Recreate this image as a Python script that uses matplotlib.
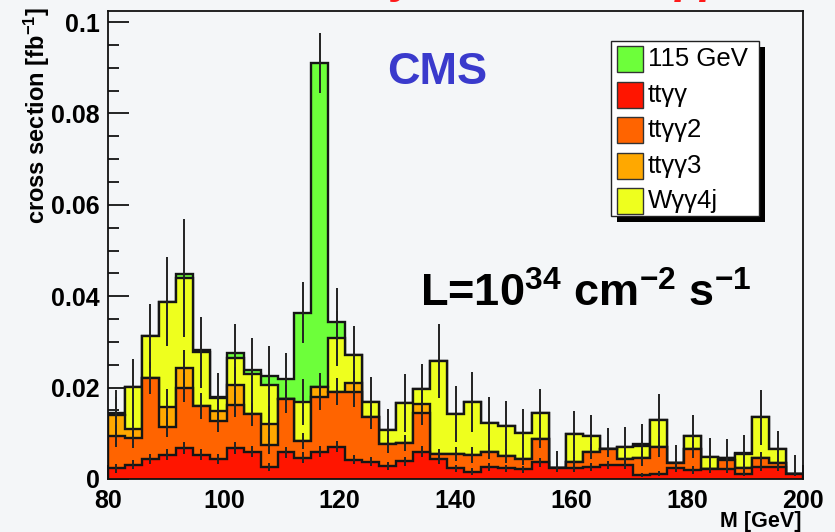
import numpy as np
import matplotlib
matplotlib.use("Agg")
import matplotlib.pyplot as plt
from matplotlib.patches import Rectangle
from matplotlib.ticker import MultipleLocator, FixedLocator, FixedFormatter

plt.rcParams['font.family'] = ['Liberation Sans', 'DejaVu Sans']
plt.rcParams['mathtext.default'] = 'regular'

# ---------------- data ----------------
x_range = (80, 200)
n_bins = 41
labels = ["115 GeV", "tt\u03b3\u03b3", "tt\u03b3\u03b32", "tt\u03b3\u03b33", "W\u03b3\u03b34j"]

tt = [0.0023, 0.0031, 0.0043, 0.0053, 0.0067, 0.0053, 0.0043, 0.0067, 0.0060, 0.0027,
      0.0058, 0.0047, 0.0060, 0.0071, 0.0042, 0.0038, 0.0028, 0.0039, 0.0060, 0.0043,
      0.0023, 0.0016, 0.0027, 0.0023, 0.0021, 0.0037, 0.0025, 0.0023, 0.0027, 0.0031,
      0.0031, 0.0009, 0.0012, 0.0023, 0.0020, 0.0021, 0.0021, 0.0012, 0.0026, 0.0027, 0.0012]
tt2 = [0.0071, 0.0058, 0.0179, 0.0061, 0.0133, 0.0107, 0.0084, 0.0096, 0.0082, 0.0047,
       0.0117, 0.0036, 0.0120, 0.0120, 0.0149, 0.0098, 0.0048, 0.0040, 0.0085, 0.0012,
       0.0032, 0.0037, 0.0033, 0.0027, 0.0022, 0.0050, 0.0, 0.0015, 0.0033, 0.0035,
       0.0012, 0.0036, 0.0059, 0.0011, 0.0045, 0.0, 0.0021, 0.0011, 0.0021, 0.0007, 0.0]
tt3 = [0.0045, 0.0020, 0.0, 0.0043, 0.0042, 0.0, 0.0022, 0.0043, 0.0, 0.0046,
       0.0, 0.0, 0.0022, 0.0, 0.0018, 0.0, 0.0, 0.0, 0.0019, 0.0,
       0.0, 0.0, 0.0, 0.0, 0.0, 0.0, 0.0, 0.0, 0.0, 0.0,
       0.0, 0.0, 0.0, 0.0, 0.0, 0.0, 0.0, 0.0, 0.0, 0.0, 0.0]
w4j = [0.0002, 0.0092, 0.0091, 0.0231, 0.0198, 0.0117, 0.0028, 0.0058, 0.0087, 0.0086,
       0.0, 0.0086, 0.0, 0.0117, 0.0062, 0.0033, 0.0031, 0.0087, 0.0034, 0.0203,
       0.0087, 0.0116, 0.0063, 0.0067, 0.0058, 0.0057, 0.0, 0.0060, 0.0034, 0.0,
       0.0028, 0.0028, 0.0058, 0.0, 0.0028, 0.0028, 0.0003, 0.0032, 0.0088, 0.0032, 0.0]
h115 = [0.0003, 0.0, 0.0, 0.0, 0.0009, 0.0005, 0.0003, 0.0012, 0.0009, 0.0019,
        0.0044, 0.0195, 0.0708, 0.0035, 0.0, 0.0, 0.0, 0.0, 0.0, 0.0,
        0.0, 0.0, 0.0, 0.0, 0.0, 0.0, 0.0, 0.0, 0.0, 0.0,
        0.0, 0.0003, 0.0, 0.0, 0.0, 0.0, 0.0002, 0.0002, 0.0, 0.0, 0.0]

e_tt = [0.0010, 0.0010, 0.0011, 0.0012, 0.0013, 0.0012, 0.0011, 0.0013, 0.0012, 0.0009,
        0.0012, 0.0011, 0.0012, 0.0013, 0.0010, 0.0010, 0.0009, 0.0010, 0.0012, 0.0011,
        0.0008, 0.0007, 0.0009, 0.0008, 0.0008, 0.0010, 0.0009, 0.0008, 0.0009, 0.0009,
        0.0009, 0.0005, 0.0006, 0.0008, 0.0008, 0.0008, 0.0008, 0.0006, 0.0009, 0.0009, 0.0006]
e_tt2 = [0.0025, 0.0022, 0.0035, 0.0023, 0.0032, 0.0028, 0.0025, 0.0027, 0.0025, 0.0019,
         0.0030, 0.0017, 0.0030, 0.0030, 0.0033, 0.0027, 0.0019, 0.0018, 0.0026, 0.0010,
         0.0016, 0.0017, 0.0016, 0.0015, 0.0013, 0.0020, 0.0, 0.0011, 0.0016, 0.0017,
         0.0010, 0.0017, 0.0022, 0.0010, 0.0019, 0.0, 0.0013, 0.0009, 0.0013, 0.0008, 0.0]
e_tt3 = [0.0040, 0.0030, 0.0, 0.0040, 0.0040, 0.0, 0.0030, 0.0040, 0.0, 0.0040,
         0.0, 0.0, 0.0030, 0.0, 0.0028, 0.0, 0.0, 0.0, 0.0028, 0.0,
         0.0, 0.0, 0.0, 0.0, 0.0, 0.0, 0.0, 0.0, 0.0, 0.0,
         0.0, 0.0, 0.0, 0.0, 0.0, 0.0, 0.0, 0.0, 0.0, 0.0, 0.0]
e_w4j = [0.0054, 0.0062, 0.0070, 0.0098, 0.0130, 0.0078, 0.0054, 0.0075, 0.0079, 0.0084,
         0.0, 0.0050, 0.0, 0.0060, 0.0064, 0.0055, 0.0046, 0.0063, 0.0053, 0.0081,
         0.0062, 0.0066, 0.0057, 0.0054, 0.0052, 0.0054, 0.0037, 0.0051, 0.0046, 0.0045,
         0.0043, 0.0047, 0.0056, 0.0040, 0.0046, 0.0041, 0.0042, 0.0041, 0.0060, 0.0040, 0.0041]
e_h115 = [0.0, 0.0, 0.0, 0.0, 0.0, 0.0, 0.0, 0.0, 0.0, 0.0,
          0.0056, 0.0066, 0.0065, 0.0074, 0.0, 0.0, 0.0, 0.0, 0.0, 0.0,
          0.0, 0.0, 0.0, 0.0, 0.0, 0.0, 0.0, 0.0, 0.0, 0.0,
          0.0, 0.0, 0.0, 0.0, 0.0, 0.0, 0.0, 0.0, 0.0, 0.0, 0.0]

y_ticks = [0, 0.02, 0.04, 0.06, 0.08, 0.1]
y_ticklabels = ["0", "0.02", "0.04", "0.06", "0.08", "0.1"]
x_ticks = [80, 100, 120, 140, 160, 180, 200]

# ---------------- figure ----------------
W, H = 835, 532
bg = '#f4f6f8'
fig = plt.figure(figsize=(W / 100, H / 100), dpi=100, facecolor=bg)
ax = fig.add_axes([108 / W, 1 - 479 / H, (803 - 108) / W, (479 - 11) / H], facecolor=bg)

def fx(px):
    return px / W

def fy(py):
    return 1 - py / H

edges = np.linspace(x_range[0], x_range[1], n_bins + 1)
centers = 0.5 * (edges[:-1] + edges[1:])

layers = [np.array(tt), np.array(tt2), np.array(tt3), np.array(w4j), np.array(h115)]
errs = [np.array(e_tt), np.array(e_tt2), np.array(e_tt3), np.array(e_w4j), np.array(e_h115)]
colors = ['#ff1500', '#ff6400', '#ffa800', '#eeff1e', '#6dff3a']
cum = np.cumsum(layers, axis=0)

z = 2
for i in reversed(range(len(layers))):
    ax.stairs(cum[i], edges, baseline=0, fill=True, facecolor=colors[i],
              edgecolor='none', zorder=z)
    ax.stairs(cum[i], edges, baseline=0, fill=False, edgecolor='#151515',
              linewidth=1.7, zorder=z + 0.1)
    m = errs[i] > 0
    ax.vlines(centers[m], cum[i][m] - errs[i][m], cum[i][m] + errs[i][m],
              color='#222222', linewidth=1.4, zorder=z + 0.2)
    z += 1

ax.set_xlim(*x_range)
ax.set_ylim(0, (479 - 11) / 4570)

for s in ax.spines.values():
    s.set_linewidth(1.3)
    s.set_color('#111111')
    s.set_zorder(20)

ax.yaxis.set_major_locator(FixedLocator(y_ticks))
ax.yaxis.set_major_formatter(FixedFormatter(y_ticklabels))
ax.yaxis.set_minor_locator(MultipleLocator(0.005))
ax.xaxis.set_major_locator(FixedLocator(x_ticks))
ax.xaxis.set_minor_locator(MultipleLocator(5))
ax.tick_params(axis='y', which='major', direction='in', length=15, width=1.2, pad=6)
ax.tick_params(axis='y', which='minor', direction='in', length=8, width=1.2)
ax.tick_params(axis='x', which='major', direction='in', length=10, width=1.2, pad=7)
ax.tick_params(axis='x', which='minor', direction='in', length=5, width=1.2)
for lab in ax.get_xticklabels() + ax.get_yticklabels():
    lab.set_fontsize(18)
    lab.set_fontweight('bold')

# axis titles
fig.text(fx(37), fy(7), "cross section [fb$^{-1}$]", rotation=90, ha='center', va='top',
         fontsize=17, fontweight='bold')
fig.text(fx(801), fy(527), "M [GeV]", ha='right', va='baseline', fontsize=15.5, fontweight='bold')

# in-plot texts
fig.text(fx(437), fy(84), "CMS", ha='center', va='baseline', fontsize=32.5,
         fontweight='bold', color='#3a3acc')
fig.text(fx(420), fy(307), "L=10$^{34}$ cm$^{-2}$ s$^{-1}$", ha='left', va='baseline',
         fontsize=32.5, fontweight='bold', color='black')

# cropped slide title (only its lower edge is visible, as in the reference)
fig.text(fx(289), fy(-7), "Study of ttH, H \u2192 \u03b3\u03b3", ha='left', va='baseline',
         fontsize=32, fontweight='bold', color='#ff1a1a')

# legend (manual, ROOT style)
lx0, ly0, lx1, ly1 = 611, 41, 759, 216
fig.patches.append(Rectangle((fx(lx0 + 6), fy(ly1 + 6)), fx(lx1 - lx0), (ly1 - ly0) / H,
                             transform=fig.transFigure, facecolor='black', edgecolor='none',
                             zorder=30))
fig.patches.append(Rectangle((fx(lx0), fy(ly1)), fx(lx1 - lx0), (ly1 - ly0) / H,
                             transform=fig.transFigure, facecolor='white', edgecolor='#222222',
                             linewidth=1.0, zorder=31))
legend_colors = [colors[4], colors[0], colors[1], colors[2], colors[3]]
for k, (lab, col) in enumerate(zip(labels, legend_colors)):
    top = 46 + k * 35.6
    fig.patches.append(Rectangle((fx(617), fy(top + 26)), fx(26), 26 / H,
                                 transform=fig.transFigure, facecolor=col,
                                 edgecolor='#333333', linewidth=1.0, zorder=32))
    fig.text(fx(648), fy(top + 13), lab, ha='left', va='center', fontsize=18.5,
             color='black', zorder=33)

fig.savefig("out.png", dpi=100, facecolor=bg)
